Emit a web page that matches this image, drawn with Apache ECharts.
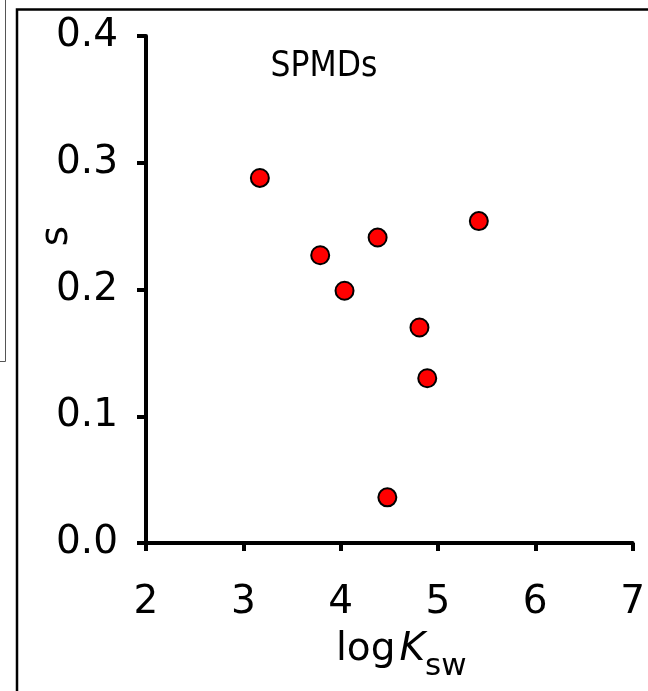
<!DOCTYPE html>
<html><head><meta charset="utf-8">
<script src="https://cdn.jsdelivr.net/npm/echarts@6/dist/echarts.min.js"></script>
<style>html,body{margin:0;padding:0;background:#fff}#c{width:648px;height:691px}</style>
</head><body><div id="c"></div>
<script>
var logKsw = [3.17, 3.79, 4.04, 4.38, 5.42, 4.81, 4.89, 4.48];
var sVals  = [0.288, 0.227, 0.199, 0.241, 0.254, 0.170, 0.130, 0.036];
var xTicks = [2, 3, 4, 5, 6, 7];
var yTicks = ['0.0', '0.1', '0.2', '0.3', '0.4'];
var panelLabel = 'SPMDs';
var yName = 's';

var FONT = 'DejaVu Sans';
var chart = echarts.init(document.getElementById('c'), null, {renderer: 'canvas'});
var pts = logKsw.map(function (x, i) { return [x, sVals[i]]; });
chart.setOption({
  animation: false,
  backgroundColor: '#fff',
  grid: {left: 146, right: 11, top: 36, bottom: 148, containLabel: false},
  xAxis: {
    type: 'value', min: xTicks[0], max: xTicks[xTicks.length - 1], interval: 1,
    axisLine: {lineStyle: {color: '#000', width: 4}},
    axisTick: {inside: false, length: 8, lineStyle: {color: '#000', width: 4}},
    splitLine: {show: false},
    axisLabel: {color: '#000', fontFamily: FONT, fontSize: 39, margin: 40},
    name: '{a|log}{b|K}{c|sw}', nameLocation: 'middle', nameGap: 80,
    nameTextStyle: {
      color: '#000', padding: [0, 0, 0, 24],
      rich: {
        a: {fontFamily: FONT, fontSize: 39, color: '#000', verticalAlign: 'bottom', lineHeight: 46, padding: [0, 4, 0, 0]},
        b: {fontFamily: FONT, fontSize: 39, fontStyle: 'italic', color: '#000', verticalAlign: 'bottom', lineHeight: 46},
        c: {fontFamily: FONT, fontSize: 31, color: '#000', verticalAlign: 'bottom', lineHeight: 36, padding: [0, 0, -13, 0]}
      }
    }
  },
  yAxis: {
    type: 'value', min: 0, max: 0.4, interval: 0.1,
    axisLine: {lineStyle: {color: '#000', width: 4}},
    axisTick: {inside: false, length: 9, lineStyle: {color: '#000', width: 4}},
    splitLine: {show: false},
    axisLabel: {color: '#000', fontFamily: FONT, fontSize: 39, margin: 28,
      formatter: function (v) { return yTicks[Math.round(v * 10)]; }}
  },
  series: [{
    type: 'scatter', data: pts, symbol: 'circle', symbolSize: 18,
    itemStyle: {color: '#ff0000', borderColor: '#000', borderWidth: 2, opacity: 1}
  }],
  graphic: [
    {type: 'polyline', shape: {points: [[0, 361.5], [5.5, 361.5], [5.5, 0]]},
      style: {stroke: '#555', lineWidth: 1, fill: null}},
    {type: 'polyline', shape: {points: [[17, 691], [17, 9.5], [648, 9.5]]},
      style: {stroke: '#000', lineWidth: 2.5, fill: null}},
    {type: 'text', x: 324, y: 67,
      style: {text: panelLabel, font: "35px 'Liberation Sans Narrow', 'DejaVu Sans Condensed', 'Liberation Sans', sans-serif",
        fill: '#000', align: 'center', verticalAlign: 'middle'}},
    {type: 'text', x: 57, y: 236, rotation: Math.PI / 2,
      style: {text: yName, font: "39px 'DejaVu Sans'", fill: '#000', align: 'center', verticalAlign: 'middle'}}
  ]
});
</script></body></html>
